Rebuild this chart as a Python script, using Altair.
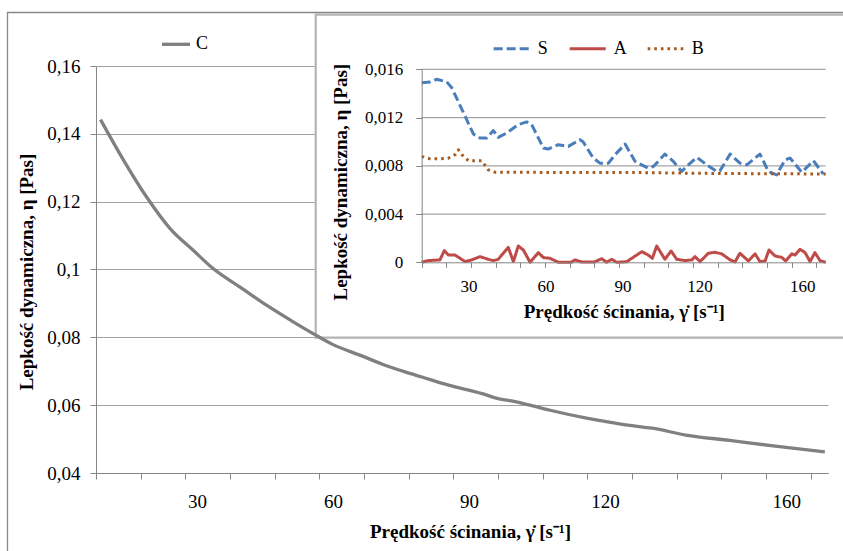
import altair as alt
import pandas as pd

# ---------------- data ----------------
c_x = [8.7, 13.8, 18.9, 24.1, 29.2, 33.6, 39.5, 45.4, 51.3, 56.4, 59.8, 66.2, 71.0, 75.9,
       79.6, 85.5, 92.9, 96.2, 100.4, 107.9, 115.4, 120.0, 125.0, 130.4, 137.8, 147.5, 157.1, 168.5]
c_y = [0.1442, 0.1322, 0.1213, 0.1120, 0.1056, 0.1002, 0.0948, 0.0894, 0.0845, 0.0805, 0.0780,
       0.0746, 0.0720, 0.0698, 0.0683, 0.0659, 0.0634, 0.0620, 0.0610, 0.0585, 0.0563, 0.0552,
       0.0541, 0.0532, 0.0512, 0.0496, 0.0480, 0.0462]

s_x = [11.8, 15.0, 17.6, 21.5, 23.5, 28.7, 31.9, 34.5, 37.1, 39.7, 41.6, 44.9, 49.4, 52.7, 54.6,
       59.2, 61.1, 65.0, 68.9, 73.4, 74.7, 78.6, 81.2, 84.5, 87.1, 91.0, 94.9, 100.0, 102.0, 106.5,
       109.8, 113.0, 115.6, 118.9, 122.8, 126.7, 127.9, 131.9, 135.7, 138.4, 143.5, 146.8, 150.0,
       153.3, 155.2, 159.8, 164.3, 168.2]
s_y = [0.01489, 0.01494, 0.01517, 0.01497, 0.01447, 0.01211, 0.01064, 0.01030, 0.01030, 0.01092,
       0.01036, 0.01072, 0.01142, 0.01164, 0.01142, 0.00947, 0.00939, 0.00975, 0.00961, 0.01017,
       0.00997, 0.00864, 0.00822, 0.00822, 0.00892, 0.00980, 0.00836, 0.00780, 0.00794, 0.00897,
       0.00836, 0.00753, 0.00808, 0.00870, 0.00808, 0.00753, 0.00758, 0.00897, 0.00822, 0.00808,
       0.00897, 0.00753, 0.00725, 0.00850, 0.00864, 0.00747, 0.00842, 0.00731]

a_x = [11.8, 14.4, 18.9, 20.6, 22.2, 24.8, 28.7, 31.3, 34.5, 37.7, 39.7, 41.6, 45.5, 47.5, 49.4,
       51.4, 54.0, 57.2, 59.2, 61.8, 65.0, 70.0, 71.5, 74.0, 79.0, 81.9, 83.8, 85.8, 87.7, 91.6,
       97.5, 100.0, 101.6, 103.3, 106.5, 108.9, 111.1, 114.4, 117.0, 118.2, 120.2, 123.4, 126.0,
       128.6, 131.9, 133.8, 135.7, 139.0, 141.6, 143.5, 145.5, 147.0, 149.4, 152.0, 153.5, 155.9,
       157.2, 159.1, 161.1, 163.0, 164.9, 166.9, 169.1]
a_y = [0.0, 0.00014, 0.00020, 0.00097, 0.00060, 0.00060, 0.00006, 0.00020, 0.00047, 0.00025,
       0.00014, 0.00025, 0.00124, 0.00006, 0.00135, 0.00102, 0.0, 0.00080, 0.00039, 0.00033,
       0.0, 0.0, 0.00020, 0.00003, 0.00003, 0.00030, 0.0, 0.00025, 0.0, 0.00005,
       0.00088, 0.00060, 0.00033, 0.00135, 0.00025, 0.00094, 0.00025, 0.00014, 0.00020, 0.00047,
       0.00006, 0.00075, 0.00083, 0.00070, 0.00020, 0.00003, 0.00075, 0.00011, 0.00070, 0.00006,
       0.00011, 0.00102, 0.00052, 0.00041, 0.00011, 0.00070, 0.00060, 0.00108, 0.00080, 0.00006,
       0.00080, 0.00014, 0.0]

b_x = [11.8, 15.0, 18.5, 22.0, 24.8, 26.1, 27.4, 30.0, 35.2, 37.7, 40.3, 50.0, 60.0, 70.0, 80.0,
       90.0, 100.0, 110.0, 120.0, 130.0, 140.0, 150.0, 160.0, 169.1]
b_y = [0.00878, 0.00858, 0.00858, 0.00862, 0.00892, 0.00933, 0.00892, 0.00842, 0.00842, 0.00767,
       0.00747, 0.00747, 0.00745, 0.00745, 0.00745, 0.00745, 0.00743, 0.00740, 0.00738, 0.00736,
       0.00735, 0.00734, 0.00733, 0.00733]

series_names = ["S", "A", "B"]
series_colors = ["#4a7ebb", "#be4b48", "#a85a1c"]
series_dashes = [[9, 4], [1, 0], [2.6, 4]]

main_label_values = [30, 60, 90, 120, 160]
main_minor_ticks = [7.7, 17.56, 27.41, 37.27, 47.12, 56.98, 66.83, 76.69, 86.54, 96.4, 106.25,
                    116.11, 125.96, 135.82, 145.67, 155.53, 165.38]
main_y_ticks = [0.04, 0.06, 0.08, 0.10, 0.12, 0.14, 0.16]

inset_label_values = [30, 60, 90, 120, 160]
inset_minor_ticks = [11.8, 21.41, 31.01, 40.62, 50.23, 59.84, 69.44, 79.05, 88.66, 98.26, 107.87,
                     117.48, 127.08, 136.69, 146.30, 155.91, 165.51]
inset_y_ticks = [0, 0.004, 0.008, 0.012, 0.016]

x_title = "Prędkość ścinania, γ̇ [s⁻¹]"
y_title = "Lepkość dynamiczna,  η [Pas]"

# ---------------- layout ----------------
W, H = 732, 407
PAD = {"left": 96, "top": 66, "right": 15, "bottom": 78}
IX0, IX1 = 325.7, 729.7      # inset plot x range (inside main plot coords)
IY0, IY1 = 196.3, 3.3        # inset plot y range (bottom, top)
FONT = "Liberation Serif"
AX = "#868686"

main_df = pd.DataFrame({"x": c_x, "v": c_y, "s": "C"})
inset_df = pd.concat([
    pd.DataFrame({"x": s_x, "v": s_y, "s": "S"}),
    pd.DataFrame({"x": a_x, "v": a_y, "s": "A"}),
    pd.DataFrame({"x": b_x, "v": b_y, "s": "B"}),
], ignore_index=True)
grid_df = pd.DataFrame({"v": inset_y_ticks[1:]})
one = pd.DataFrame({"k": [0]})

main_xs = alt.Scale(domain=[7.7, 169.2], nice=False, zero=False)
main_ys = alt.Scale(domain=[0.04, 0.16], nice=False, zero=False)
inset_xs = alt.Scale(domain=[11.8, 169.1], nice=False, zero=False, range=[IX0, IX1])
inset_ys = alt.Scale(domain=[0, 0.016], nice=False, zero=False, range=[IY0, IY1])

main_y_axis = alt.Axis(
    orient="left", values=main_y_ticks, grid=True, gridColor="#a0a0a0", gridWidth=1,
    domain=True, domainColor=AX, ticks=True, tickSize=6, tickColor=AX,
    labelPadding=10, labelFontSize=19, labelFlush=False,
    labelExpr="replace(format(datum.value, '.2~f'), '.', ',')",
    title=y_title, titleFontSize=19, titleX=-59.3, titleY=205.5,
    titleAngle=270, titleBaseline="bottom")

inset_y_axis = alt.Axis(
    orient="left", offset=-IX0, values=inset_y_ticks, grid=False, domain=True,
    domainColor=AX, ticks=True, tickSize=6, tickColor=AX, labelPadding=13,
    labelFontSize=17, labelFlush=False,
    labelExpr="replace(format(datum.value, '.3~f'), '.', ',')",
    title=y_title, titleFontSize=19, titleX=-71.7, titleY=115.7, titleAngle=270,
    titleBaseline="bottom", zindex=1)

# outer frame of the chart area
frame = alt.Chart(one).mark_rect(fill="transparent", stroke="#878787", strokeWidth=1.3).encode(
    x=alt.value(-88.5), x2=alt.value(770), y=alt.value(-53.5), y2=alt.value(520))

# inset panel background
box = alt.Chart(one).mark_rect(fill="white", stroke="#b4b4b4", strokeWidth=2.2).encode(
    x=alt.value(219.7), x2=alt.value(780), y=alt.value(-51.3), y2=alt.value(271.7))

# ---------------- main chart ----------------
main_line = alt.Chart(main_df).mark_line(strokeWidth=3.3, strokeJoin="round",
                                         interpolate="monotone").encode(
    x=alt.X("x:Q", scale=main_xs, axis=alt.Axis(
        orient="bottom", values=main_label_values, ticks=False, tickSize=0, domain=False,
        grid=False, labelPadding=19.5, labelFontSize=19, labelFlush=False,
        title=x_title, titleFontSize=19, titleX=374, titleY=64, titleBaseline="alphabetic")),
    y=alt.Y("v:Q", scale=main_ys, axis=main_y_axis),
    color=alt.Color("s:N", scale=alt.Scale(domain=["C"], range=["#808080"]),
                    legend=alt.Legend(orient="none", legendX=64, legendY=-37.7,
                                      direction="horizontal", title=None, symbolType="stroke",
                                      symbolSize=784, symbolStrokeWidth=3.3, labelFontSize=18,
                                      labelFont=FONT, labelColor="black", labelOffset=4)),
)

main_ticks = alt.Chart(main_df).mark_line(strokeOpacity=0).encode(
    x=alt.X("x:Q", scale=main_xs, axis=alt.Axis(
        orient="bottom", values=main_minor_ticks, labels=False, ticks=True, tickSize=6,
        tickColor=AX, domain=True, domainColor=AX, grid=False, title=None)),
    y=alt.Y("v:Q", scale=main_ys, axis=main_y_axis),
)

main_layer = alt.layer(main_line, main_ticks).resolve_axis(x="independent")

# ---------------- inset chart ----------------
inset_grid = alt.Chart(grid_df).mark_rule(color="#a6a6a6", strokeWidth=1.3).encode(
    y=alt.Y("v:Q", scale=inset_ys, axis=inset_y_axis),
    x=alt.value(IX0), x2=alt.value(IX1),
)

inset_legend = alt.Legend(orient="none", legendX=395.7, legendY=-37.3, direction="horizontal",
                          title=None, symbolType="stroke", symbolSize=1300, symbolStrokeWidth=3,
                          labelFontSize=18, labelFont=FONT, labelColor="black", labelOffset=6,
                          columnPadding=14)

inset_lines = alt.Chart(inset_df).mark_line(strokeWidth=3, strokeJoin="round").encode(
    x=alt.X("x:Q", scale=inset_xs, axis=alt.Axis(
        orient="bottom", offset=-(H - IY0), values=inset_label_values, ticks=False, tickSize=0,
        domain=False, grid=False, labelPadding=15.8, labelFontSize=17, labelFlush=False,
        title=x_title, titleFontSize=19, titleY=55, titleBaseline="alphabetic", zindex=1)),
    y=alt.Y("v:Q", scale=inset_ys, axis=inset_y_axis),
    color=alt.Color("s:N", scale=alt.Scale(domain=series_names, range=series_colors),
                    legend=inset_legend),
    strokeDash=alt.StrokeDash("s:N", scale=alt.Scale(domain=series_names, range=series_dashes),
                              legend=inset_legend),
)

inset_ticks = alt.Chart(inset_df).mark_line(strokeOpacity=0).encode(
    x=alt.X("x:Q", scale=inset_xs, axis=alt.Axis(
        orient="bottom", offset=-(H - IY0), values=inset_minor_ticks, labels=False, ticks=True,
        tickSize=5, tickColor=AX, domain=True, domainColor=AX, grid=False, title=None,
        zindex=1)),
    y=alt.Y("v:Q", scale=inset_ys, axis=inset_y_axis),
)

inset_layer = alt.layer(inset_grid, inset_lines, inset_ticks).resolve_axis(x="independent")

chart = alt.layer(frame, box, main_layer, inset_layer).resolve_scale(
    x="independent", y="independent", color="independent", strokeDash="independent"
).properties(
    width=W, height=H, padding=PAD, autosize=alt.AutoSizeParams(type="none"),
    background="white",
).configure_view(stroke="transparent").configure_axis(
    labelFont=FONT, labelColor="black", titleFont=FONT, titleColor="black",
    titleFontWeight="bold", domainWidth=1, tickWidth=1,
)

chart.save("out.html", embed_options={"renderer": "svg", "actions": False})
